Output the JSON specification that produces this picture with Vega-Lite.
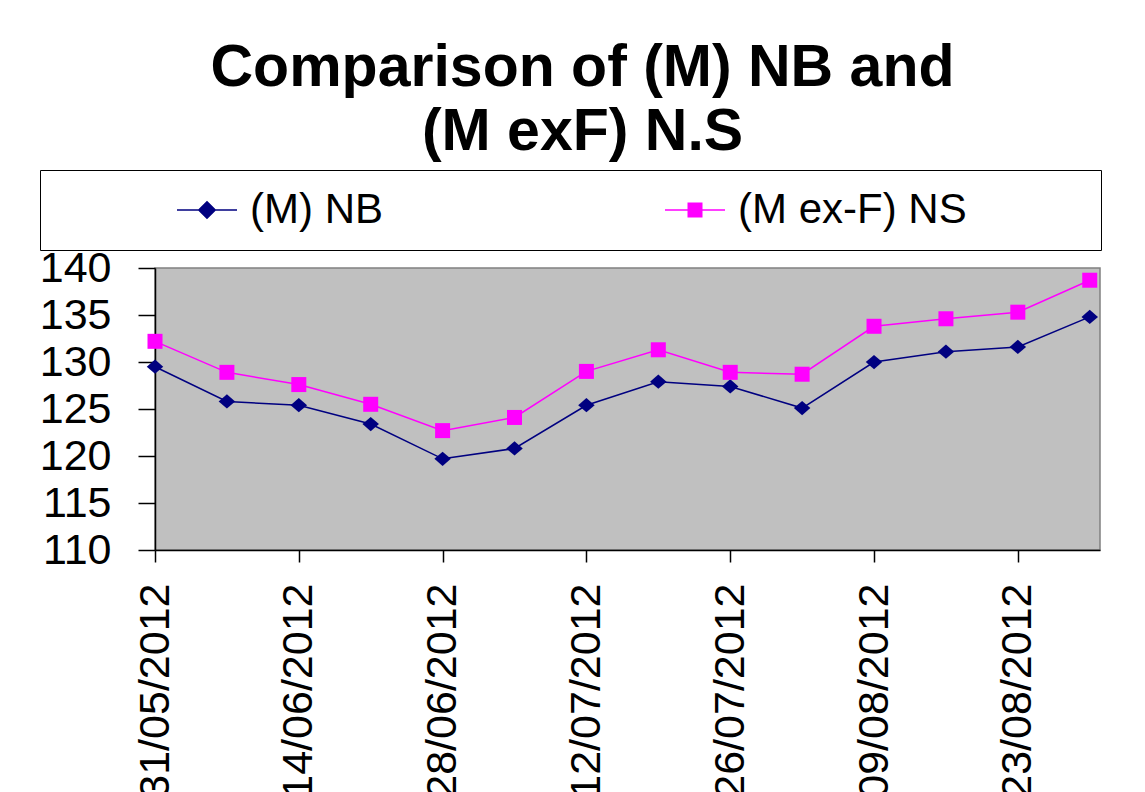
{
  "$schema": "https://vega.github.io/schema/vega-lite/v6.json",
  "width": 945,
  "height": 282,
  "autosize": "none",
  "padding": {"left": 155, "top": 268, "right": 45, "bottom": 242},
  "background": "white",
  "title": {
    "text": ["Comparison of (M) NB and", "(M exF) N.S"],
    "font": "Liberation Sans",
    "fontSize": 59,
    "fontWeight": "bold",
    "lineHeight": 64,
    "anchor": "middle",
    "dx": -45,
    "offset": 8,
    "color": "black"
  },
  "config": {
    "view": {"fill": "#C0C0C0", "stroke": "#808080", "strokeWidth": 1.5},
    "axis": {"grid": false, "labelFont": "Liberation Sans", "labelColor": "black", "domainColor": "black", "domainWidth": 1.5, "tickColor": "black", "tickWidth": 1.5, "labelFlush": false, "labelOverlap": false, "labelLimit": 0}
  },
  "data": {
    "values": [
      {"date": "2012-05-31", "series": "(M) NB", "value": 129.5},
      {"date": "2012-06-07", "series": "(M) NB", "value": 125.8},
      {"date": "2012-06-14", "series": "(M) NB", "value": 125.4},
      {"date": "2012-06-21", "series": "(M) NB", "value": 123.4},
      {"date": "2012-06-28", "series": "(M) NB", "value": 119.7},
      {"date": "2012-07-05", "series": "(M) NB", "value": 120.8},
      {"date": "2012-07-12", "series": "(M) NB", "value": 125.4},
      {"date": "2012-07-19", "series": "(M) NB", "value": 127.9},
      {"date": "2012-07-26", "series": "(M) NB", "value": 127.4},
      {"date": "2012-08-02", "series": "(M) NB", "value": 125.1},
      {"date": "2012-08-09", "series": "(M) NB", "value": 130.0},
      {"date": "2012-08-16", "series": "(M) NB", "value": 131.1},
      {"date": "2012-08-23", "series": "(M) NB", "value": 131.6},
      {"date": "2012-08-30", "series": "(M) NB", "value": 134.8},
      {"date": "2012-05-31", "series": "(M ex-F) NS", "value": 132.2},
      {"date": "2012-06-07", "series": "(M ex-F) NS", "value": 128.9},
      {"date": "2012-06-14", "series": "(M ex-F) NS", "value": 127.6},
      {"date": "2012-06-21", "series": "(M ex-F) NS", "value": 125.5},
      {"date": "2012-06-28", "series": "(M ex-F) NS", "value": 122.7},
      {"date": "2012-07-05", "series": "(M ex-F) NS", "value": 124.1},
      {"date": "2012-07-12", "series": "(M ex-F) NS", "value": 129.0},
      {"date": "2012-07-19", "series": "(M ex-F) NS", "value": 131.3},
      {"date": "2012-07-26", "series": "(M ex-F) NS", "value": 128.9},
      {"date": "2012-08-02", "series": "(M ex-F) NS", "value": 128.7},
      {"date": "2012-08-09", "series": "(M ex-F) NS", "value": 133.8},
      {"date": "2012-08-16", "series": "(M ex-F) NS", "value": 134.6},
      {"date": "2012-08-23", "series": "(M ex-F) NS", "value": 135.3},
      {"date": "2012-08-30", "series": "(M ex-F) NS", "value": 138.7}
    ]
  },
  "encoding": {
    "x": {
      "field": "date",
      "type": "temporal",
      "scale": {
        "type": "utc",
        "domain": [
          {"year": 2012, "month": 5, "date": 31, "utc": true},
          {"year": 2012, "month": 8, "date": 31, "utc": true}
        ]
      },
      "axis": {
        "title": null,
        "values": [
          {"year": 2012, "month": 5, "date": 31, "utc": true},
          {"year": 2012, "month": 6, "date": 14, "utc": true},
          {"year": 2012, "month": 6, "date": 28, "utc": true},
          {"year": 2012, "month": 7, "date": 12, "utc": true},
          {"year": 2012, "month": 7, "date": 26, "utc": true},
          {"year": 2012, "month": 8, "date": 9, "utc": true},
          {"year": 2012, "month": 8, "date": 23, "utc": true}
        ],
        "format": "%d/%m/%Y",
        "labelAngle": 270,
        "labelAlign": "right",
        "labelBaseline": "middle",
        "labelFontSize": 43,
        "labelPadding": 21,
        "tickSize": 12
      }
    },
    "y": {
      "field": "value",
      "type": "quantitative",
      "scale": {"domain": [110, 140], "nice": false, "zero": false},
      "axis": {
        "title": null,
        "values": [110, 115, 120, 125, 130, 135, 140],
        "labelFontSize": 43,
        "labelPadding": 27,
        "tickSize": 17
      }
    }
  },
  "layer": [
    {
      "mark": {"type": "line", "strokeWidth": 1.5},
      "encoding": {
        "detail": {"field": "series", "type": "nominal"},
        "stroke": {"condition": {"test": "datum.series == '(M) NB'", "value": "#000080"}, "value": "#FF00FF"}
      }
    },
    {
      "mark": {"type": "point", "filled": true, "size": 225, "opacity": 1},
      "encoding": {
        "fill": {"condition": {"test": "datum.series == '(M) NB'", "value": "#000080"}, "value": "#FF00FF"},
        "shape": {"condition": {"test": "datum.series == '(M) NB'", "value": "M-1.1,0L0,-0.95L1.1,0L0,0.95Z"}, "value": "square"}
      }
    },
    {
      "transform": [{"filter": "datum.value < 0"}],
      "mark": {"type": "point", "filled": true, "strokeWidth": 1.5, "opacity": 1},
      "encoding": {
        "color": {
          "field": "series", "type": "nominal",
          "scale": {"domain": ["(M) NB", "(M ex-F) NS"], "range": ["#000080", "#FF00FF"]},
          "legend": {
            "orient": "none", "legendX": -115, "legendY": -98, "direction": "horizontal", "columns": 2,
            "title": " ", "titleOrient": "right", "titleFontSize": 10, "titlePadding": 115,
            "padding": 19, "strokeColor": "black", "fillColor": "white", "columnPadding": 164,
            "symbolSize": 900, "symbolOffset": 127, "labelOffset": 22, "symbolStrokeWidth": 1.5,
            "labelFont": "Liberation Sans", "labelFontSize": 42, "labelColor": "black", "labelLimit": 0
          }
        },
        "stroke": {
          "field": "series", "type": "nominal",
          "scale": {"domain": ["(M) NB", "(M ex-F) NS"], "range": ["#000080", "#FF00FF"]},
          "legend": {
            "orient": "none", "legendX": -115, "legendY": -98, "direction": "horizontal", "columns": 2,
            "title": " ", "titleOrient": "right", "titleFontSize": 10, "titlePadding": 115,
            "padding": 19, "strokeColor": "black", "fillColor": "white", "columnPadding": 164,
            "symbolSize": 900, "symbolOffset": 127, "labelOffset": 22, "symbolStrokeWidth": 1.5,
            "labelFont": "Liberation Sans", "labelFontSize": 42, "labelColor": "black", "labelLimit": 0
          }
        },
        "shape": {
          "field": "series", "type": "nominal",
          "scale": {"domain": ["(M) NB", "(M ex-F) NS"], "range": ["M-2,0H2M0,-0.55L0.55,0L0,0.55L-0.55,0Z", "M-2,0H2M-0.45,-0.45H0.45V0.45H-0.45Z"]},
          "legend": {
            "orient": "none", "legendX": -115, "legendY": -98, "direction": "horizontal", "columns": 2,
            "title": " ", "titleOrient": "right", "titleFontSize": 10, "titlePadding": 115,
            "padding": 19, "strokeColor": "black", "fillColor": "white", "columnPadding": 164,
            "symbolSize": 900, "symbolOffset": 127, "labelOffset": 22, "symbolStrokeWidth": 1.5,
            "labelFont": "Liberation Sans", "labelFontSize": 42, "labelColor": "black", "labelLimit": 0
          }
        }
      }
    }
  ]
}
